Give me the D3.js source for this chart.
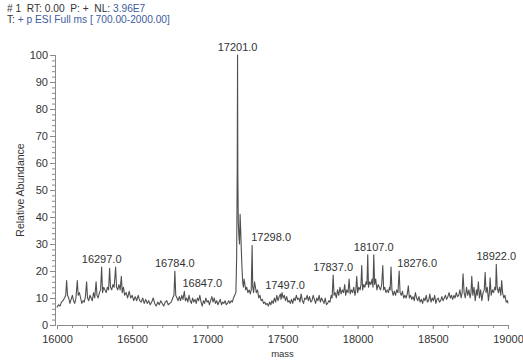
<!DOCTYPE html>
<html>
<head>
<meta charset="utf-8">
<script src="https://cdn.jsdelivr.net/npm/d3@7"></script>
<style>
  body { margin: 0; background: #fff; }
  svg { display: block; font-family: "Liberation Sans", Arial, sans-serif; }
</style>
</head>
<body>
<svg id="chart" width="523" height="361"></svg>
<script>
// spectrum: [mass, relative abundance]
const spectrum = [
  [16000, 6.5], [16010, 7.5], [16020, 7], [16030, 8.5], [16040, 9], [16050, 10], [16058, 11], [16064, 16.5],
  [16070, 11], [16078, 10], [16086, 8], [16094, 9.5], [16102, 11], [16110, 9], [16118, 8], [16126, 10],
  [16135, 16.5], [16141, 11], [16149, 12], [16157, 10], [16165, 8], [16173, 9], [16181, 8.5], [16189, 10.5],
  [16197, 16], [16203, 10], [16211, 9], [16219, 11], [16227, 10], [16235, 9], [16243, 12], [16251, 10],
  [16260, 16], [16266, 11], [16274, 10], [16282, 12], [16290, 13], [16297, 21.5], [16303, 12], [16311, 14],
  [16319, 13], [16327, 12], [16335, 14], [16343, 13], [16350, 21], [16356, 14], [16364, 13], [16372, 15],
  [16380, 14], [16390, 21.5], [16396, 14], [16404, 13], [16412, 15], [16420, 13], [16428, 18], [16434, 12],
  [16442, 14], [16450, 11], [16460, 12], [16470, 10], [16480, 12.5], [16490, 10], [16500, 11], [16510, 9],
  [16520, 10.5], [16530, 9], [16540, 11], [16550, 9], [16560, 8.5], [16570, 10], [16580, 8], [16590, 9.5],
  [16600, 8], [16610, 9], [16620, 7.5], [16630, 8.5], [16640, 10], [16650, 8], [16660, 7], [16670, 8.5],
  [16680, 7.5], [16690, 9], [16700, 8], [16710, 7], [16720, 8.5], [16730, 9], [16740, 7.5], [16750, 8],
  [16760, 8.5], [16770, 10], [16778, 11], [16784, 20], [16790, 11], [16798, 10], [16806, 9], [16814, 10.5],
  [16822, 9], [16830, 11], [16838, 9.5], [16847, 12.5], [16854, 9], [16862, 10], [16870, 8.5], [16878, 11],
  [16886, 9], [16894, 8], [16902, 10], [16910, 8.5], [16918, 9.5], [16926, 8], [16934, 10], [16942, 9],
  [16950, 11], [16958, 8.5], [16966, 7], [16974, 9], [16982, 8], [16990, 10], [16998, 8.5], [17006, 9],
  [17014, 7.5], [17022, 9], [17030, 10.5], [17038, 8.5], [17046, 10], [17054, 8], [17062, 9], [17070, 7.5],
  [17078, 8.5], [17086, 9.5], [17094, 7.5], [17102, 8.5], [17110, 8], [17118, 9], [17126, 7.5], [17134, 8],
  [17142, 9], [17150, 8], [17158, 9], [17166, 8.5], [17174, 10], [17182, 11], [17190, 12], [17195, 25],
  [17199, 60], [17201, 100], [17203, 55], [17206, 38], [17210, 33], [17214, 30], [17218, 41], [17222, 35],
  [17226, 28], [17230, 22], [17235, 16], [17240, 14], [17245, 17], [17250, 15], [17255, 13], [17262, 14],
  [17270, 12], [17278, 13], [17286, 11.5], [17292, 13], [17298, 29.5], [17302, 14], [17308, 12], [17314, 16],
  [17320, 14], [17326, 12], [17334, 13], [17342, 10], [17350, 11], [17358, 9], [17366, 9.5], [17374, 8],
  [17382, 8.5], [17390, 7.5], [17398, 8], [17406, 7], [17414, 8.5], [17422, 7.5], [17430, 9], [17438, 8],
  [17446, 10], [17454, 8.5], [17462, 11], [17470, 9], [17478, 10.5], [17486, 11.5], [17490, 9.5], [17497, 12],
  [17504, 10], [17512, 11], [17520, 9], [17528, 10.5], [17536, 8.5], [17544, 9], [17552, 8], [17560, 9.5],
  [17568, 8], [17576, 10], [17584, 9], [17592, 11], [17600, 9.5], [17608, 10], [17616, 8.5], [17624, 11.5],
  [17632, 9], [17640, 8], [17648, 10], [17656, 9.5], [17664, 11], [17672, 9], [17680, 10.5], [17688, 8.5],
  [17696, 9], [17704, 11], [17712, 9.5], [17720, 8], [17728, 10], [17736, 9], [17744, 11], [17752, 8.5],
  [17760, 10], [17768, 9], [17776, 8], [17784, 10], [17792, 7.5], [17800, 8], [17808, 9], [17816, 8.5],
  [17824, 11], [17830, 10], [17837, 18.5], [17843, 11], [17850, 12], [17858, 10], [17866, 13], [17874, 11],
  [17882, 14], [17890, 11.5], [17898, 13], [17906, 12], [17914, 15], [17920, 11], [17928, 13], [17936, 12],
  [17943, 17], [17950, 11.5], [17958, 13], [17966, 12], [17974, 14], [17982, 11], [17988, 13], [17994, 18],
  [18000, 12], [18008, 14], [18016, 13], [18022, 15], [18027, 22], [18033, 13], [18040, 15], [18048, 14],
  [18056, 16], [18062, 15], [18067, 26], [18072, 14], [18080, 16], [18088, 15], [18096, 17], [18102, 14],
  [18107, 26], [18113, 15], [18120, 17], [18128, 13], [18136, 15], [18144, 14], [18152, 13], [18160, 15],
  [18167, 22], [18173, 13], [18180, 14], [18188, 12], [18196, 13], [18204, 12], [18212, 14], [18216, 13],
  [18222, 21.5], [18228, 13], [18236, 11], [18244, 12.5], [18252, 11], [18260, 13], [18268, 12], [18276, 20],
  [18282, 12], [18290, 11], [18298, 12.5], [18306, 10], [18314, 11], [18322, 10], [18330, 11.5], [18337, 14.5],
  [18344, 10], [18352, 11], [18360, 9.5], [18368, 10.5], [18376, 9], [18384, 12], [18392, 10], [18400, 9],
  [18408, 10.5], [18416, 8.5], [18424, 9.5], [18432, 8], [18440, 10], [18448, 9], [18456, 11], [18464, 8.5],
  [18472, 9], [18480, 11.5], [18488, 8.5], [18496, 10], [18504, 9], [18512, 11], [18520, 8], [18528, 9.5],
  [18536, 10], [18544, 8.5], [18552, 9], [18560, 10.5], [18568, 9], [18576, 10], [18584, 11], [18592, 9.5],
  [18600, 10.5], [18608, 12], [18616, 10], [18624, 11], [18632, 9.5], [18640, 11], [18648, 10], [18656, 12],
  [18664, 10.5], [18672, 11], [18680, 13], [18688, 10], [18695, 12], [18701, 19], [18708, 12], [18716, 10],
  [18724, 14], [18732, 11], [18740, 13], [18748, 10], [18754, 12], [18759, 18], [18766, 11], [18774, 14],
  [18782, 9], [18790, 13], [18796, 11], [18803, 16], [18810, 10], [18818, 13], [18826, 9], [18834, 12],
  [18842, 13], [18848, 19.5], [18854, 12], [18862, 14], [18870, 9], [18876, 12], [18881, 17.5], [18888, 11],
  [18896, 13], [18904, 12], [18912, 14], [18918, 13], [18922, 22.5], [18928, 14], [18936, 12], [18944, 14],
  [18952, 11], [18958, 16.5], [18964, 12], [18972, 10], [18980, 11], [18988, 8.5], [18996, 9], [19000, 8]
];

// labelled peaks: [mass, height of the peak top]
const peakLabels = [
  [16297, 21.5], [16784, 20], [16847, 12.5], [17201, 100], [17298, 29.5],
  [17497, 12], [17837, 18.5], [18107, 26], [18276, 20], [18922, 22.5]
];

const xTicks = [16000, 16500, 17000, 17500, 18000, 18500, 19000];
const yTicks = [0, 10, 20, 30, 40, 50, 60, 70, 80, 90, 100];
const headerLine1 = [['# 1  RT: 0.00  P: +  NL: ', '#333'], ['3.96E7', '#3d5c9e']];
const headerLine2 = [['T: ', '#333'], ['+ p ESI Full ms [ 700.00-2000.00]', '#3d5c9e']];

const svg = d3.select('#chart');
const textColor = '#333';
const axisColor = '#8a8a8a';

const x = d3.scaleLinear().domain([16000, 19000]).range([57, 508]);
const y = d3.scaleLinear().domain([0, 100]).range([325, 55]);

// header
[[headerLine1, 12], [headerLine2, 23]].forEach(([parts, yy]) => {
  const t = svg.append('text')
    .attr('x', 7)
    .attr('y', yy)
    .attr('font-size', 10.2)
    .attr('xml:space', 'preserve');
  parts.forEach(([s, c]) => t.append('tspan').attr('fill', c).text(s));
});

// minor ticks
const xMinor = d3.axisBottom(x).tickValues(d3.range(16000, 19001, 100)).tickSize(3).tickFormat('');
const yMinor = d3.axisLeft(y).tickValues(d3.range(0, 101, 2)).tickSize(3).tickFormat('');

svg.append('g').attr('transform', `translate(0,${y(0)})`).call(xMinor);
svg.append('g').attr('transform', 'translate(55,0)').call(yMinor);

// major axes
svg.append('g')
  .attr('class', 'axis')
  .attr('transform', `translate(0,${y(0)})`)
  .call(d3.axisBottom(x).tickValues(xTicks).tickSize(4).tickPadding(6).tickFormat(d3.format('d')));

svg.append('g')
  .attr('class', 'axis')
  .attr('transform', 'translate(55,0)')
  .call(d3.axisLeft(y).tickValues(yTicks).tickSize(5).tickPadding(2).tickFormat(d3.format('d')));

svg.selectAll('.domain').attr('stroke', axisColor);
svg.selectAll('.tick line').attr('stroke', axisColor);
svg.selectAll('.axis text')
  .attr('fill', textColor)
  .attr('font-size', 11)
  .attr('font-family', '"Liberation Sans", Arial, sans-serif');

// axis titles
svg.append('text')
  .attr('x', (x.range()[0] + x.range()[1]) / 2)
  .attr('y', 357)
  .attr('text-anchor', 'middle')
  .attr('font-size', 9.5)
  .attr('fill', textColor)
  .text('mass');

svg.append('text')
  .attr('transform', `translate(24,${(y(0) + y(100)) / 2}) rotate(-90)`)
  .attr('text-anchor', 'middle')
  .attr('font-size', 10.5)
  .attr('fill', textColor)
  .text('Relative Abundance');

// spectrum trace
const line = d3.line()
  .x(d => x(d[0]))
  .y(d => y(d[1]));

svg.append('path')
  .datum(spectrum)
  .attr('d', line)
  .attr('fill', 'none')
  .attr('stroke', '#505050')
  .attr('stroke-width', 1.1)
  .attr('stroke-linejoin', 'round');

// some labels are pushed right so they clear a neighbour
const labelShift = { 16847: 18, 17298: 19, 18276: 18, 17497: 3 };

svg.append('g')
  .selectAll('text')
  .data(peakLabels)
  .join('text')
  .attr('x', d => x(d[0]) + (labelShift[d[0]] || 0))
  .attr('y', d => y(d[1]) - 4)
  .attr('text-anchor', 'middle')
  .attr('font-size', 11)
  .attr('fill', textColor)
  .text(d => d3.format('.1f')(d[0]));
</script>
</body>
</html>
